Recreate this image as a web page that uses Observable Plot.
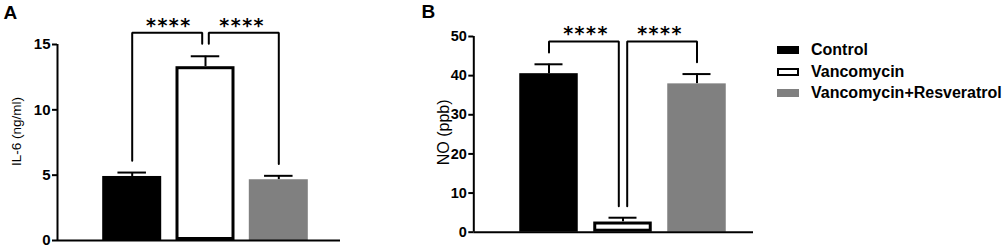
<!DOCTYPE html>
<html><head><meta charset="utf-8">
<script src="https://cdn.jsdelivr.net/npm/d3@7"></script>
<script src="https://cdn.jsdelivr.net/npm/@observablehq/plot@0.6"></script>
<style>
body{margin:0;background:#fff;}
#wrap{position:relative;width:1003px;height:248px;overflow:hidden;font-family:"Liberation Sans",Arial,sans-serif;}
.panel{position:absolute;top:0;}
.legend{position:absolute;left:0;top:0;}
.row{position:absolute;height:18px;white-space:nowrap;}
.sw{position:absolute;left:0;top:5px;width:22px;height:8px;box-sizing:border-box;}
.lt{position:absolute;left:34px;top:0;line-height:18px;font-size:16px;font-weight:bold;color:#000;}
</style></head><body><div id="wrap"></div>
<script>
// ---- data ----
const groups = ["Control", "Vancomycin", "Vancomycin+Resveratrol"];
const il6Mean = [4.9, 13.3, 4.65];
const il6Err = [0.3, 0.8, 0.3];
const noMean = [40.5, 2.6, 37.9];
const noErr = [2.4, 1.1, 2.5];
const il6Ticks = [0, 5, 10, 15];
const noTicks = [0, 10, 20, 30, 40, 50];
const il6Label = "IL-6 (ng/ml)";
const noLabel = "NO (ppb)";
const panelLetters = ["A", "B"];
const comparisons = [[0, 1], [1, 2]];
const starText = ["****", "****"];
const il6BracketTop = 15.9;
const il6LegBottoms = [[6.1, 15.05], [15.05, 5.85]];
const il6StarY = 16.8;
const noBracketTop = 48.7;
const noLegBottoms = [[45.9, 6.6], [6.6, 43.4]];
const noStarY = 52;
const fills = ["#000000", "#ffffff", "#808080"];

const FONT = "Liberation Sans, Arial, sans-serif";

function panel(cfg) {
  const {mean, err, ticks, label, letter, legBottoms, top, starY, yMax, width, height,
    marginLeft, marginRight, marginTop, marginBottom, c0, step, barPx, capPx, gapPx,
    labelDx, labelAt, labelSize, tickSize, letterDx, letterDy} = cfg;
  const xDomain = [(marginLeft - c0) / step, (width - marginRight - c0) / step];
  const barHalf = barPx / 2 / step, capHalf = capPx / 2 / step, gap = gapPx / step;
  const rows = groups.map((g, i) => ({g, i, mean: mean[i], hi: mean[i] + err[i]}));
  const counts = new Map();
  comparisons.flat().forEach(v => counts.set(v, (counts.get(v) || 0) + 1));
  const shared = [...counts].find(([, c]) => c === comparisons.length)?.[0];
  const endX = (idx, other) => idx === shared ? idx + Math.sign(other - idx) * gap : idx;
  const pts = [];
  comparisons.forEach(([a, b], k) => {
    const xa = endX(a, b), xb = endX(b, a);
    pts.push({k, x: xa, y: legBottoms[k][0]}, {k, x: xa, y: top}, {k, x: xb, y: top}, {k, x: xb, y: legBottoms[k][1]});
  });
  const stars = comparisons.map(([a, b], k) => ({x: (a + b) / 2, y: starY, t: starText[k]}));
  const whiteRows = rows.filter(d => fills[d.i] === "#ffffff");

  const svg = Plot.plot({
    width, height, marginLeft, marginRight, marginTop, marginBottom,
    style: {fontFamily: FONT, fontSize: "13px", background: "transparent", color: "#000", overflow: "visible"},
    x: {type: "linear", domain: xDomain, axis: null},
    y: {domain: [0, yMax], ticks: ticks, tickSize: 5, tickPadding: 2, label: null, tickFormat: d => String(d)},
    color: {domain: groups, range: fills},
    marks: [
      Plot.ruleX(rows, {x: "i", y1: "mean", y2: "hi", stroke: "#000", strokeWidth: 2}),
      Plot.rectY(rows, {x1: d => d.i - barHalf, x2: d => d.i + barHalf, y1: 0, y2: "mean", fill: "g"}),
      Plot.rectY(whiteRows, {x1: d => d.i - barHalf, x2: d => d.i + barHalf, y1: 0, y2: "mean", fill: "none", stroke: "#000", strokeWidth: 3, inset: 1.5}),
      Plot.ruleY(rows, {y: "hi", x1: d => d.i - capHalf, x2: d => d.i + capHalf, stroke: "#000", strokeWidth: 2}),
      Plot.line(pts, {x: "x", y: "y", z: "k", stroke: "#000", strokeWidth: 2, strokeLinejoin: "miter", curve: "linear"}),
      Plot.text(stars, {x: "x", y: "y", text: "t", fontFamily: "DejaVu Sans", fontWeight: "bold", fontSize: 19, dy: 5, fill: "#000"}),
      Plot.ruleY([0], {stroke: "#000", strokeWidth: 2}),
      Plot.ruleX([xDomain[0]], {stroke: "#000", strokeWidth: 2}),
      Plot.text([label], {x: () => xDomain[0], y: () => labelAt, rotate: -90, dx: labelDx, text: d => d, fontSize: labelSize, fill: "#000", textAnchor: "middle", lineAnchor: "middle"}),
      Plot.text([letter], {frameAnchor: "top-left", dx: letterDx, dy: letterDy, text: d => d, textAnchor: "start", lineAnchor: "bottom", fontSize: 19, fontWeight: "bold", fill: "#000"})
    ]
  });
  const s = d3.select(svg);
  s.selectAll("g[aria-label^='y-axis']").attr("font-weight", "bold").attr("stroke-width", 2);
  s.selectAll("g[aria-label^='y-axis'] text").attr("font-size", tickSize).style("font-size", tickSize + "px");
  s.selectAll("g[aria-label='text'] text").filter(function () { return this.textContent.includes("*"); }).attr("letter-spacing", "1.5px");
  return svg;
}

const wrap = document.getElementById("wrap");

const pA = panel({
  mean: il6Mean, err: il6Err, ticks: il6Ticks, label: il6Label, letter: panelLetters[0],
  legBottoms: il6LegBottoms, top: il6BracketTop, starY: il6StarY, yMax: 15,
  width: 345, height: 248, marginLeft: 57, marginRight: 5, marginTop: 44, marginBottom: 8,
  c0: 131.7, step: 73.3, barPx: 59, capPx: 28.5, gapPx: 3.3,
  labelDx: -41, labelAt: 8.35, labelSize: 13.5, tickSize: 15, letterDx: -54, letterDy: -26
});
const dA = document.createElement("div"); dA.className = "panel"; dA.style.left = "0px"; dA.appendChild(pA); wrap.appendChild(dA);

const pB = panel({
  mean: noMean, err: noErr, ticks: noTicks, label: noLabel, letter: panelLetters[1],
  legBottoms: noLegBottoms, top: noBracketTop, starY: noStarY, yMax: 50,
  width: 350, height: 248, marginLeft: 63.3, marginRight: 7, marginTop: 36, marginBottom: 16.3,
  c0: 138.5, step: 74, barPx: 58.5, capPx: 28, gapPx: 4.2,
  labelDx: -30.3, labelAt: 25.5, labelSize: 16, tickSize: 14.5, letterDx: -52.3, letterDy: -18.5
});
const dB = document.createElement("div"); dB.className = "panel"; dB.style.left = "410px"; dB.appendChild(pB); wrap.appendChild(dB);

// legend
const leg = d3.select(wrap).append("div").attr("class", "legend");
groups.forEach((g, i) => {
  const row = leg.append("div").attr("class", "row")
    .style("left", "777px").style("top", (50 + i * 21.7 - 9) + "px");
  row.append("div").attr("class", "sw")
    .style("background", fills[i])
    .style("border", fills[i] === "#ffffff" ? "2px solid #000" : "none");
  row.append("div").attr("class", "lt").text(g);
});
</script>
</body></html>
